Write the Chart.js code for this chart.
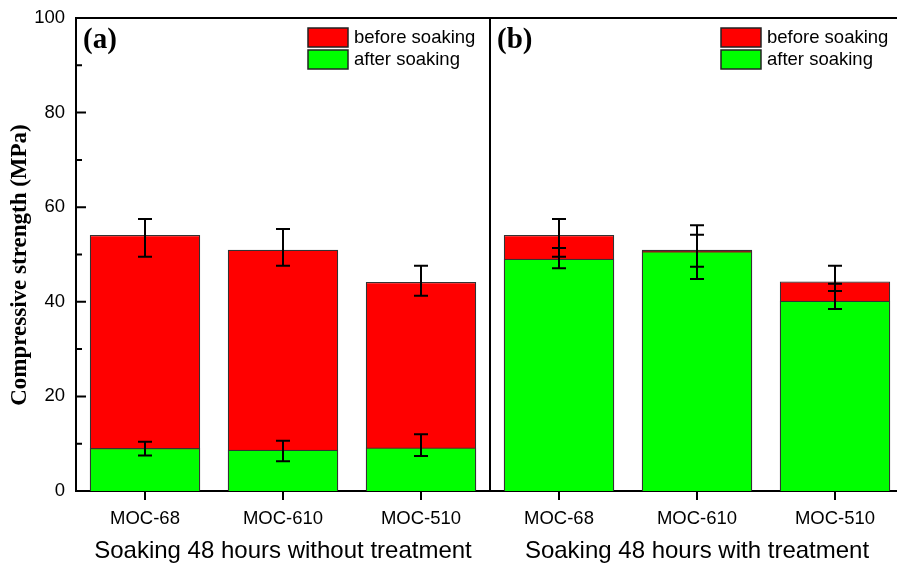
<!DOCTYPE html>
<html>
<head>
<meta charset="utf-8">
<script src="https://cdn.jsdelivr.net/npm/chart.js@4"></script>
<style>
  html, body { margin: 0; padding: 0; background: #fff; overflow: hidden; }
  #wrap { width: 897px; height: 568px; overflow: hidden; }
  #wrap div { width: 912px; height: 568px; }
</style>
</head>
<body>
<div id="wrap"><div><canvas id="chart"></canvas></div></div>
<script>
const categories = ["MOC-68", "MOC-610", "MOC-510", "MOC-68", "MOC-610", "MOC-510"];
const groupTitles = ["Soaking 48 hours without treatment", "Soaking 48 hours with treatment"];
const panelLabels = ["(a)", "(b)"];

const before = [54.1, 51.0, 44.2, 54.1, 51.0, 44.3];
const beforeLow = [49.5, 47.6, 41.3, 49.5, 47.4, 42.3];
const beforeHigh = [57.5, 55.4, 47.6, 57.5, 54.2, 47.6];

const after = [9.1, 8.7, 9.2, 49.1, 50.7, 40.2];
const afterLow = [7.5, 6.3, 7.4, 47.1, 44.8, 38.5];
const afterHigh = [10.4, 10.6, 12.0, 51.4, 56.2, 43.8];

const yTicksMajor = [0, 20, 40, 60, 80, 100];
const yTicksMinor = [10, 30, 50, 70, 90];

const RED = "#ff0000";
const GREEN = "#00ff00";

const extras = {
  id: "extras",
  afterDatasetsDraw(chart) {
    const ctx = chart.ctx;
    const x = chart.scales.x;
    const y = chart.scales.y;
    const area = chart.chartArea;
    ctx.save();

    // error bars
    ctx.strokeStyle = "#000";
    ctx.lineWidth = 2;
    const drawErr = (lows, highs) => {
      lows.forEach((lo, i) => {
        const cx = x.getPixelForValue(i);
        const y1 = y.getPixelForValue(lo);
        const y2 = y.getPixelForValue(highs[i]);
        ctx.beginPath();
        ctx.moveTo(cx, y1); ctx.lineTo(cx, y2);
        ctx.moveTo(cx - 7, y1); ctx.lineTo(cx + 7, y1);
        ctx.moveTo(cx - 7, y2); ctx.lineTo(cx + 7, y2);
        ctx.stroke();
      });
    };
    drawErr(beforeLow, beforeHigh);
    drawErr(afterLow, afterHigh);

    // frame top and divider
    const mid = (x.getPixelForValue(2) + x.getPixelForValue(3)) / 2;
    ctx.beginPath();
    ctx.moveTo(area.left, area.top); ctx.lineTo(area.right, area.top);
    ctx.moveTo(mid, area.top); ctx.lineTo(mid, area.bottom);
    ctx.stroke();

    // inward y ticks
    ctx.lineWidth = 2;
    ctx.beginPath();
    yTicksMajor.forEach(v => {
      const py = y.getPixelForValue(v);
      ctx.moveTo(area.left, py); ctx.lineTo(area.left + 10, py);
    });
    yTicksMinor.forEach(v => {
      const py = y.getPixelForValue(v);
      ctx.moveTo(area.left, py); ctx.lineTo(area.left + 6, py);
    });
    ctx.stroke();

    // panel labels
    ctx.fillStyle = "#000";
    ctx.font = "bold 29px 'Liberation Serif'";
    ctx.textBaseline = "middle";
    ctx.textAlign = "left";
    ctx.fillText(panelLabels[0], area.left + 7, area.top + 23);
    ctx.fillText(panelLabels[1], mid + 7, area.top + 23);

    // legends
    const legend = (bx) => {
      const items = [["before soaking", RED, area.top + 10], ["after soaking", GREEN, area.top + 32]];
      items.forEach(([label, col, top]) => {
        ctx.fillStyle = col;
        ctx.fillRect(bx, top, 40, 19);
        ctx.strokeStyle = "#222";
        ctx.lineWidth = 1.5;
        ctx.strokeRect(bx, top, 40, 19);
        ctx.fillStyle = "#000";
        ctx.font = "18.5px 'Liberation Sans'";
        ctx.textAlign = "left";
        ctx.fillText(label, bx + 46, top + 10);
      });
    };
    legend(308);
    legend(721);

    // group titles
    ctx.font = "24px 'Liberation Sans'";
    ctx.textAlign = "center";
    ctx.fillStyle = "#000";
    ctx.fillText(groupTitles[0], (area.left + mid) / 2, 551);
    ctx.fillText(groupTitles[1], x.getPixelForValue(4), 551);

    // y axis title
    ctx.save();
    ctx.translate(20, 265);
    ctx.rotate(-Math.PI / 2);
    ctx.font = "bold 23px 'Liberation Serif'";
    ctx.textAlign = "center";
    ctx.fillText("Compressive strength (MPa)", 0, 0);
    ctx.restore();

    ctx.restore();
  }
};

new Chart(document.getElementById("chart"), {
  type: "bar",
  data: {
    labels: categories,
    datasets: [
      {
        label: "after soaking",
        data: after,
        backgroundColor: GREEN,
        borderColor: "#333",
        borderWidth: 1.2,
        grouped: false,
        order: 0
      },
      {
        label: "before soaking",
        data: before,
        backgroundColor: RED,
        borderColor: "#333",
        borderWidth: 1.2,
        grouped: false,
        order: 1
      }
    ]
  },
  options: {
    responsive: true,
    maintainAspectRatio: false,
    animation: false,
    layout: { padding: { top: 18, right: 8, left: 0, bottom: 0 } },
    plugins: { legend: { display: false }, tooltip: { enabled: false } },
    datasets: { bar: { barPercentage: 0.8, categoryPercentage: 1.0 } },
    scales: {
      x: {
        grid: { display: true, drawOnChartArea: false, offset: false, tickLength: 9, lineWidth: 2, color: "#000" },
        border: { display: true, color: "#000", width: 2 },
        ticks: { color: "#000", font: { family: "Liberation Sans", size: 18.5 }, padding: 8, maxRotation: 0 },
        afterFit: s => { s.height = 77; }
      },
      y: {
        min: 0,
        max: 100,
        grid: { display: false },
        border: { display: true, color: "#000", width: 2 },
        ticks: { stepSize: 20, color: "#000", font: { family: "Liberation Sans", size: 18.5 }, padding: 3 },
        afterFit: s => { s.width = 76; }
      }
    }
  },
  plugins: [extras]
});
</script>
</body>
</html>
